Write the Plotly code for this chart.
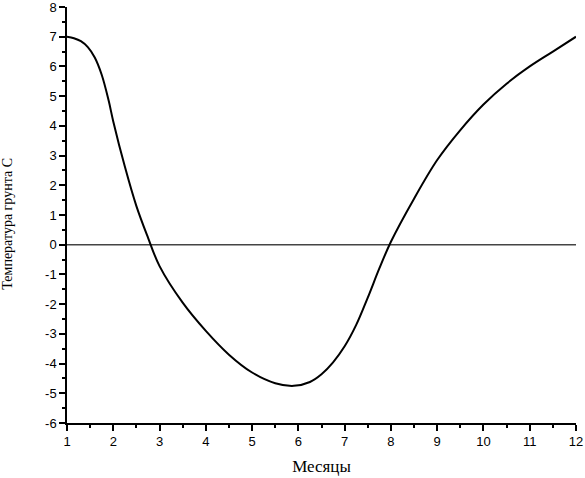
import plotly.graph_objects as go

# Месяцы / температура грунта
months = [1.0, 1.15, 1.3, 1.45, 1.6, 1.75, 1.9, 2.0, 2.25, 2.5, 2.75, 3.0, 3.5, 4.0, 4.5,
          5.0, 5.5, 5.9, 6.25, 6.5, 6.75, 7.0, 7.25, 7.5, 7.75, 8.0, 8.5, 9.0, 9.5, 10.0,
          10.5, 11.0, 11.5, 12.0]
temps = [7.0, 6.95, 6.85, 6.65, 6.3, 5.72, 4.85, 4.15, 2.63, 1.3, 0.24, -0.72, -1.95, -2.9,
         -3.7, -4.3, -4.66, -4.75, -4.62, -4.36, -3.96, -3.42, -2.7, -1.78, -0.8, 0.1,
         1.55, 2.85, 3.86, 4.72, 5.42, 6.0, 6.5, 7.0]
zero_x = [1, 12]
zero_y = [0, 0]

x_ticks = list(range(1, 13))
y_ticks = list(range(-6, 9))
x_labels = [str(v) for v in x_ticks]
y_labels = [str(v) for v in y_ticks]  # plain hyphen, not the unicode minus

TICK_FONT = dict(family="Liberation Sans, Arial", size=13, color="black")
SERIF = "Liberation Serif, Times New Roman"

fig = go.Figure()
fig.add_trace(go.Scatter(x=zero_x, y=zero_y, mode="lines",
                         line=dict(color="#444444", width=1.5), hoverinfo="skip"))
fig.add_trace(go.Scatter(x=months, y=temps, mode="lines",
                         line=dict(color="black", width=2, shape="spline", smoothing=1.0)))

axis_common = dict(
    showgrid=False, zeroline=False, showline=True, linecolor="black", linewidth=1.5,
    ticks="outside", ticklen=6, tickwidth=1.5, tickcolor="black", tickfont=TICK_FONT,
    minor=dict(ticks="outside", ticklen=3, tickwidth=1.5, tickcolor="black", dtick=0.5),
    automargin=False, ticklabeloverflow="allow",
)

fig.update_xaxes(range=[1, 12], tickvals=x_ticks, ticktext=x_labels,
                 title=dict(text="Месяцы", font=dict(family=SERIF, size=17, color="black"), standoff=12),
                 **axis_common)
fig.update_yaxes(range=[-6, 8], tickvals=y_ticks, ticktext=y_labels, **axis_common)

fig.update_layout(
    width=585, height=478,
    margin=dict(l=67, r=9, t=7, b=55),
    plot_bgcolor="white", paper_bgcolor="white",
    showlegend=False,
    annotations=[dict(text="Температура грунта С", textangle=-90,
                      font=dict(family=SERIF, size=14, color="black"),
                      xref="paper", yref="paper", x=-0.116, y=0.479,
                      xanchor="center", yanchor="middle", showarrow=False)],
)

# drop the default page margin so the figure sits at the window's top-left corner
fig.write_html("out.html", config={"displayModeBar": False},
               post_script="document.body.style.margin = '0';")
